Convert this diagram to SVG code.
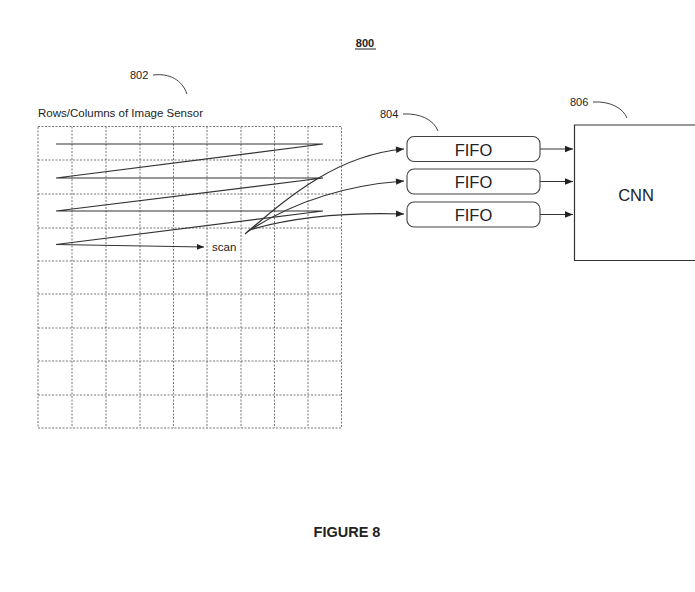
<svg xmlns="http://www.w3.org/2000/svg" width="695" height="592" viewBox="0 0 695 592">
<defs>
<marker id="ah" viewBox="0 0 10 10" refX="10" refY="5" markerWidth="9" markerHeight="8" orient="auto" markerUnits="userSpaceOnUse"><path d="M0,1 L10,5 L0,9 z" fill="#222"/></marker>
<marker id="ah2" viewBox="0 0 10 10" refX="10" refY="5" markerWidth="10" markerHeight="7" orient="auto" markerUnits="userSpaceOnUse"><path d="M0,1 L10,5 L0,9 z" fill="#222"/></marker>
</defs>
<style>
text{font-family:"Liberation Sans",Arial,sans-serif;fill:#222}
.grid{stroke:#777;stroke-width:1;stroke-dasharray:2 1.5;fill:none}
.ln{stroke:#333;stroke-width:1.2;fill:none}
.lead{stroke:#444;stroke-width:1;fill:none}
.fifo{fill:#fff;stroke:#444;stroke-width:1.1}
</style>
<rect width="695" height="592" fill="#fff"/>
<text x="365" y="47" font-size="11" font-weight="bold" text-anchor="middle">800</text>
<line x1="355" y1="49" x2="376" y2="49" stroke="#222" stroke-width="1"/>
<g id="sensor">
<text x="38" y="117" font-size="11.5" textLength="165" lengthAdjust="spacingAndGlyphs">Rows/Columns of Image Sensor</text>
<text x="130" y="79" font-size="11">802</text>
<path class="lead" d="M153,75 C170,73 182,80 187,94"/>
<g class="grid">
<rect x="38" y="126.5" width="303.5" height="301.5"/>
<path d="M72,126.5V428M106,126.5V428M140,126.5V428M173.5,126.5V428M207,126.5V428M241,126.5V428M274.5,126.5V428M308,126.5V428"/>
<path d="M38,160H341.5M38,194H341.5M38,228H341.5M38,261H341.5M38,294H341.5M38,328H341.5M38,361H341.5M38,395H341.5"/>
</g>
<polyline class="ln" points="56,144 323,144 56,178 323,178 56,211 323,211 56,244.5"/>
<path class="ln" d="M56,244.5 L204,247" marker-end="url(#ah2)"/>
<text x="212" y="251" font-size="11.5">scan</text>
</g>
<g id="connectors">
<path class="ln" d="M245,234 C285,200 335,155 404,149" marker-end="url(#ah)"/>
<path class="ln" d="M247,232 C285,207 335,186 404,181" marker-end="url(#ah)"/>
<path class="ln" d="M249,230 C290,218 340,212 404,214" marker-end="url(#ah)"/>
<path class="ln" d="M540,149 H573" marker-end="url(#ah)"/>
<path class="ln" d="M540,181.5 H573" marker-end="url(#ah)"/>
<path class="ln" d="M540,214.5 H573" marker-end="url(#ah)"/>
</g>
<g id="fifo1"><rect class="fifo" x="407" y="136.5" width="133" height="25" rx="7"/><text x="473.5" y="155.5" font-size="16.5" text-anchor="middle">FIFO</text></g>
<g id="fifo2"><rect class="fifo" x="407" y="169" width="133" height="25" rx="7"/><text x="473.5" y="188" font-size="16.5" text-anchor="middle">FIFO</text></g>
<g id="fifo3"><rect class="fifo" x="407" y="202" width="133" height="25" rx="7"/><text x="473.5" y="221" font-size="16.5" text-anchor="middle">FIFO</text></g>
<text x="380" y="118" font-size="11">804</text>
<path class="lead" d="M403,114 C420,113 434,120 438,131"/>
<g id="cnn">
<path d="M700,125 H574.5 V260.5 H700" fill="#fff" stroke="#333" stroke-width="1.2"/>
<text x="636" y="201" font-size="16.5" text-anchor="middle">CNN</text>
<text x="570" y="106" font-size="11">806</text>
<path class="lead" d="M593,102 C610,101 623,108 627,118"/>
</g>
<text x="347" y="537" font-size="14.5" font-weight="bold" text-anchor="middle">FIGURE 8</text>
</svg>
